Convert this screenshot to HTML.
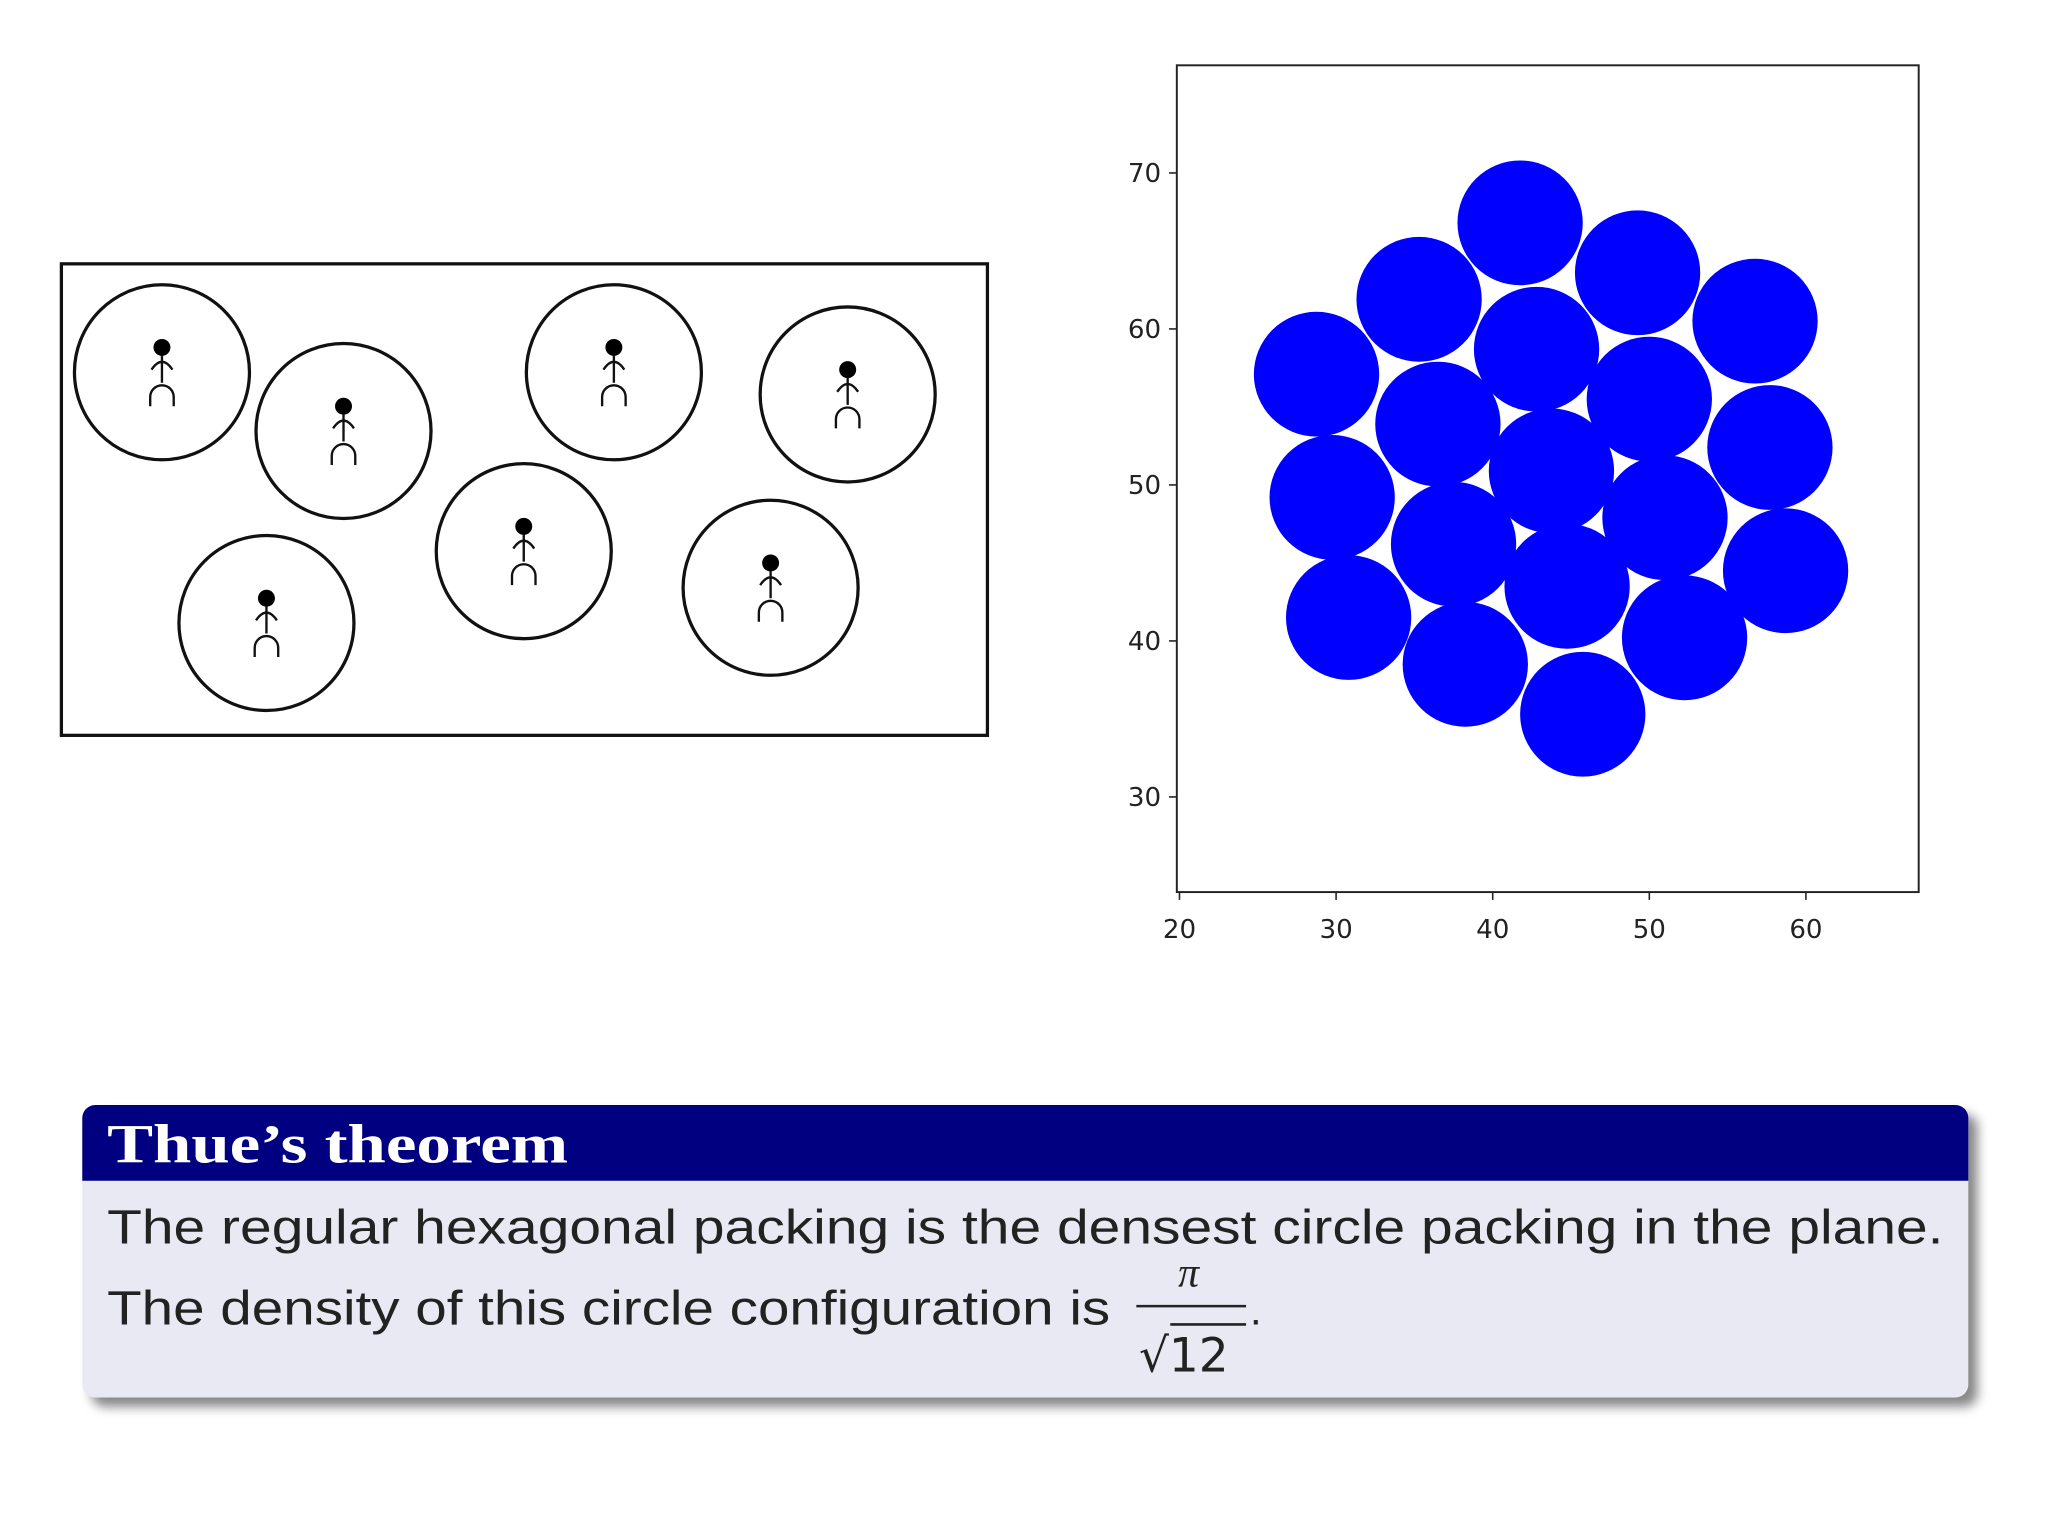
<!DOCTYPE html>
<html><head><meta charset="utf-8"><style>
html,body{margin:0;padding:0;background:#fff;width:2048px;height:1536px;overflow:hidden}
svg{display:block}
</style></head><body>
<svg id="root" width="2048" height="1536" viewBox="0 0 1568 1176" xmlns="http://www.w3.org/2000/svg">
<defs><filter id="sh" x="-5%" y="-5%" width="115%" height="130%"><feGaussianBlur stdDeviation="4"/></filter></defs>
<g id="left">
<rect x="47" y="202" width="709" height="361" fill="none" stroke="#111" stroke-width="2.5"/>
</g>
<g id="chart">
<rect x="901" y="50" width="568" height="633" fill="#fff" stroke="#222" stroke-width="1.5"/>
</g>
<g>
<rect x="70" y="853" width="1444" height="224" rx="10" fill="#555" opacity="0.7" filter="url(#sh)"/>
<rect x="63" y="846" width="1444" height="224" rx="10" fill="#e9e9f3"/>
<path d="M63 904 V856 a10 10 0 0 1 10 -10 H1497 a10 10 0 0 1 10 10 V904 Z" fill="#000080"/>
<text x="82" y="890" font-family="Liberation Serif, serif" font-weight="bold" font-size="42" fill="#fff" textLength="353" lengthAdjust="spacingAndGlyphs">Thue’s theorem</text>
<text x="82" y="952" font-family="Liberation Sans, sans-serif" font-size="37" fill="#222" textLength="1406" lengthAdjust="spacingAndGlyphs">The regular hexagonal packing is the densest circle packing in the plane.</text>
<text x="82" y="1014" font-family="Liberation Sans, sans-serif" font-size="37" fill="#222" textLength="768" lengthAdjust="spacingAndGlyphs">The density of this circle configuration is</text>
<text x="910" y="985" text-anchor="middle" font-family="Liberation Serif, serif" font-style="italic" font-size="32" fill="#222">π</text>
<line x1="870" y1="1000" x2="954" y2="1000" stroke="#222" stroke-width="2"/>
<text x="872" y="1050" font-family="DejaVu Sans, sans-serif" font-size="36" fill="#222">√12</text>
<line x1="896" y1="1014" x2="954" y2="1014" stroke="#222" stroke-width="2"/>
<text x="957" y="1014" font-family="Liberation Sans, sans-serif" font-size="32" fill="#222">.</text>
</g>
</svg>
<script>
var NS='http://www.w3.org/2000/svg';
function mk(t,a,p){var e=document.createElementNS(NS,t);for(var k in a){e.setAttribute(k,String(a[k]));}p.appendChild(e);return e;}
var peopleX=[124,263,470,649,401,204,590];
var peopleY=[285,330,285,302,422,477,450];
var xTicks=[20,30,40,50,60];
var yTicks=[30,40,50,60,70];
var circleX=[41.75,35.3,49.25,56.75,28.75,42.8,50,36.5,57.7,29.75,43.75,51,37.5,58.7,30.8,44.75,52.25,38.25,45.75];
var circleY=[66.8,61.9,63.6,60.5,57.1,58.7,55.5,53.9,52.4,49.2,50.9,47.9,46.2,44.5,41.5,43.5,40.2,38.5,35.3];
var radius=4;
var L=document.getElementById('left');
for(var i=0;i<peopleX.length;i++){
  var cx=peopleX[i],cy=peopleY[i];
  var c=mk('circle',{cx:cx,cy:cy,r:67,fill:'none',stroke:'#111','stroke-width':2.5},L);
  
  
  var g=mk('g',{fill:'none',stroke:'#111','stroke-width':1.8},L);
  
  
  mk('circle',{cx:cx,cy:cy-19,r:6.5,fill:'#000',stroke:'none'},g);
  mk('path',{d:'M'+cx+' '+(cy-13)+' V'+(cy+8)+' M'+(cx-8)+' '+(cy-2)+' Q'+cx+' '+(cy-14)+' '+(cx+8)+' '+(cy-2)+' M'+(cx-9)+' '+(cy+26)+' V'+(cy+19)+' a9 9 0 0 1 18 0 V'+(cy+26)},g);
}
var X0=901,X1=1469,Y0=683,Y1=50,xmin=19.83,xmax=67.2,ymin=23.9,ymax=76.9;
function sx(v){return X0+(v-xmin)/(xmax-xmin)*(X1-X0);}
function sy(v){return Y0-(v-ymin)/(ymax-ymin)*(Y0-Y1);}
var C=document.getElementById('chart');
for(var j=0;j<circleX.length;j++){
  var e=mk('ellipse',{cx:sx(circleX[j]),cy:sy(circleY[j]),rx:sx(circleX[j]+radius)-sx(circleX[j]),ry:sy(circleY[j])-sy(circleY[j]+radius),fill:'#0000ff'},C);
  
  
}
xTicks.forEach(function(t){
  var l=mk('line',{x1:sx(t),x2:sx(t),y1:Y0,y2:Y0+6,stroke:'#222','stroke-width':1.2},C);
  
  
  var tx=mk('text',{x:sx(t),y:Y0+35,'text-anchor':'middle','font-family':'DejaVu Sans, sans-serif','font-size':20,fill:'#222'},C);
  tx.textContent=String(t);
  
  
});
yTicks.forEach(function(t){
  var l=mk('line',{x1:X0-6,x2:X0,y1:sy(t),y2:sy(t),stroke:'#222','stroke-width':1.2},C);
  
  
  var tx=mk('text',{x:X0-12,y:sy(t)+7,'text-anchor':'end','font-family':'DejaVu Sans, sans-serif','font-size':20,fill:'#222'},C);
  tx.textContent=String(t);
  
  
});
</script>
</body></html>
